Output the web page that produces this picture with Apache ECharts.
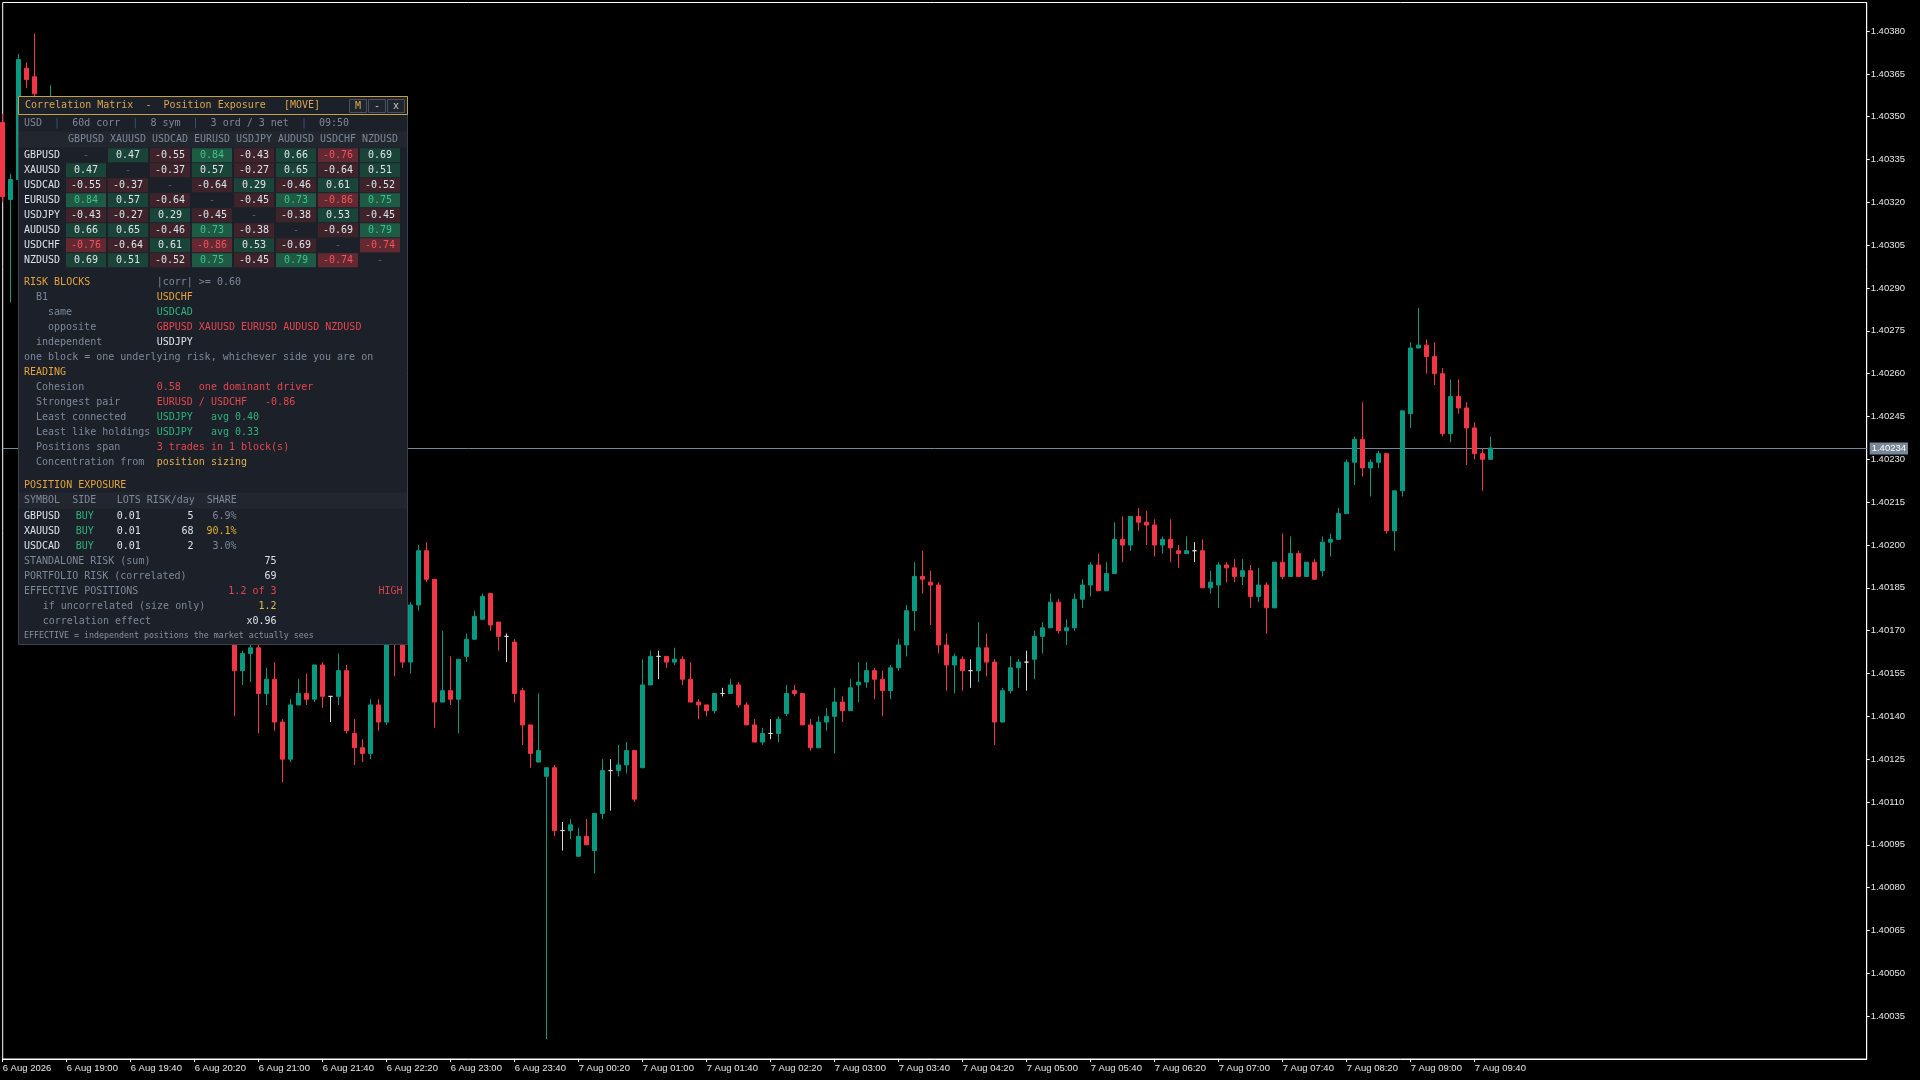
<!DOCTYPE html>
<html><head><meta charset="utf-8">
<script src="https://cdn.jsdelivr.net/npm/echarts@6.0.0/dist/echarts.min.js"></script>
<style>html,body{margin:0;padding:0;background:#000;overflow:hidden}#c{width:1920px;height:1080px}</style>
</head><body><div id="c"></div>
<script>
// ---------- DATA ----------
// M5 bars from 6 Aug 18:20 to 7 Aug 09:50, each [open, close, low, high]
const candles = [
[1.40348,1.40322,1.40320,1.40351],[1.40321,1.40328,1.40285,1.40330],[1.40328,1.40370,1.40326,1.40372],[1.40367,1.40363,1.40360,1.40369],
[1.40364,1.40358,1.40352,1.40379],[1.40354,1.40346,1.40340,1.40356],[1.40346,1.40352,1.40343,1.40361],[1.40352,1.40341,1.40336,1.40354],
[1.40341,1.40334,1.40328,1.40345],[1.40334,1.40338,1.40330,1.40342],[1.40338,1.40322,1.40318,1.40340],[1.40322,1.40314,1.40309,1.40326],
[1.40314,1.40319,1.40311,1.40323],[1.40319,1.40303,1.40298,1.40321],[1.40303,1.40291,1.40286,1.40306],[1.40291,1.40297,1.40288,1.40301],
[1.40297,1.40280,1.40276,1.40299],[1.40280,1.40266,1.40261,1.40283],[1.40266,1.40272,1.40262,1.40276],[1.40272,1.40255,1.40250,1.40274],
[1.40255,1.40243,1.40238,1.40258],[1.40243,1.40248,1.40239,1.40252],[1.40248,1.40231,1.40226,1.40250],[1.40231,1.40218,1.40212,1.40234],
[1.40218,1.40224,1.40214,1.40228],[1.40224,1.40206,1.40200,1.40226],[1.40206,1.40192,1.40188,1.40209],[1.40192,1.40184,1.40178,1.40196],
[1.40184,1.40174,1.40169,1.40187],[1.40174,1.40156,1.40140,1.40176],[1.40156,1.40162,1.40151,1.40163],[1.40162,1.40164,1.40152,1.40167],
[1.40164,1.40148,1.40134,1.40165],[1.40148,1.40153,1.40144,1.40157],[1.40153,1.40138,1.40135,1.40159],[1.40138,1.40125,1.40117,1.40139],
[1.40125,1.40144,1.40124,1.40146],[1.40144,1.40148,1.40144,1.40153],[1.40148,1.40146,1.40144,1.40155],[1.40146,1.40158,1.40145,1.40158],
[1.40158,1.40147,1.40143,1.40159],[1.40147,1.40147,1.40138,1.40147],[1.40147,1.40156,1.40144,1.40162],[1.40156,1.40135,1.40134,1.40158],
[1.40134,1.40129,1.40123,1.40139],[1.40129,1.40127,1.40124,1.40132],[1.40127,1.40144,1.40125,1.40146],[1.40144,1.40138,1.40135,1.40146],
[1.40138,1.40170,1.40137,1.40172],[1.40170,1.40166,1.40154,1.40173],[1.40166,1.40159,1.40157,1.40168],[1.40159,1.40179,1.40155,1.40180],
[1.40179,1.40198,1.40177,1.40200],[1.40198,1.40188,1.40187,1.40201],[1.40188,1.40145,1.40136,1.40188],[1.40145,1.40149,1.40145,1.40170],
[1.40149,1.40146,1.40144,1.40161],[1.40146,1.40160,1.40134,1.40160],[1.40161,1.40167,1.40159,1.40169],[1.40167,1.40175,1.40167,1.40177],
[1.40174,1.40182,1.40174,1.40183],[1.40183,1.40172,1.40170,1.40183],[1.40173,1.40168,1.40163,1.40173],[1.40168,1.40168,1.40159,1.40169],
[1.40166,1.40148,1.40145,1.40167],[1.40149,1.40137,1.40130,1.40150],[1.40137,1.40127,1.40122,1.40137],[1.40124,1.40128,1.40124,1.40148],
[1.40119,1.40122,1.40027,1.40122],[1.40122,1.40100,1.40098,1.40123],[1.40100,1.40100,1.40093,1.40103],[1.40100,1.40102,1.40097,1.40104],
[1.40091,1.40098,1.40091,1.40101],[1.40098,1.40095,1.40095,1.40104],[1.40093,1.40106,1.40085,1.40106],[1.40106,1.40121,1.40104,1.40125],
[1.40121,1.40121,1.40107,1.40125],[1.40121,1.40123,1.40119,1.40130],[1.40123,1.40128,1.40120,1.40131],[1.40128,1.40111,1.40110,1.40128],
[1.40122,1.40151,1.40122,1.40160],[1.40151,1.40161,1.40151,1.40163],[1.40161,1.40161,1.40153,1.40163],[1.40161,1.40159,1.40157,1.40161],
[1.40159,1.40160,1.40158,1.40164],[1.40160,1.40153,1.40151,1.40161],[1.40153,1.40145,1.40145,1.40159],[1.40145,1.40144,1.40139,1.40146],
[1.40144,1.40142,1.40140,1.40144],[1.40142,1.40148,1.40141,1.40148],[1.40148,1.40148,1.40147,1.40150],[1.40148,1.40151,1.40148,1.40153],
[1.40151,1.40144,1.40143,1.40152],[1.40144,1.40137,1.40137,1.40145],[1.40137,1.40131,1.40131,1.40139],[1.40131,1.40134,1.40130,1.40136],
[1.40134,1.40134,1.40132,1.40139],[1.40134,1.40139,1.40131,1.40140],[1.40141,1.40148,1.40140,1.40151],[1.40149,1.40148,1.40147,1.40151],
[1.40148,1.40137,1.40137,1.40148],[1.40137,1.40129,1.40128,1.40139],[1.40129,1.40138,1.40129,1.40140],[1.40138,1.40140,1.40135,1.40143],
[1.40140,1.40145,1.40127,1.40150],[1.40145,1.40142,1.40138,1.40147],[1.40142,1.40150,1.40142,1.40153],[1.40151,1.40152,1.40145,1.40159],
[1.40152,1.40156,1.40150,1.40159],[1.40156,1.40153,1.40146,1.40157],[1.40153,1.40149,1.40140,1.40156],[1.40149,1.40157,1.40146,1.40158],
[1.40157,1.40165,1.40156,1.40167],[1.40165,1.40177,1.40161,1.40179],[1.40177,1.40189,1.40170,1.40194],[1.40189,1.40188,1.40183,1.40198],
[1.40187,1.40186,1.40172,1.40191],[1.40186,1.40165,1.40162,1.40187],[1.40165,1.40158,1.40149,1.40169],[1.40158,1.40161,1.40148,1.40162],
[1.40160,1.40156,1.40149,1.40161],[1.40156,1.40156,1.40150,1.40160],[1.40156,1.40164,1.40152,1.40173],[1.40164,1.40159,1.40154,1.40169],
[1.40159,1.40138,1.40130,1.40160],[1.40138,1.40149,1.40138,1.40150],[1.40149,1.40157,1.40148,1.40161],[1.40157,1.40159,1.40150,1.40160],
[1.40159,1.40159,1.40149,1.40163],[1.40160,1.40168,1.40153,1.40170],[1.40168,1.40171,1.40162,1.40173],[1.40171,1.40180,1.40171,1.40183],
[1.40180,1.40170,1.40169,1.40181],[1.40170,1.40171,1.40165,1.40174],[1.40171,1.40181,1.40170,1.40183],[1.40181,1.40186,1.40178,1.40188],
[1.40186,1.40193,1.40182,1.40194],[1.40193,1.40184,1.40184,1.40197],[1.40184,1.40190,1.40184,1.40194],[1.40190,1.40202,1.40190,1.40208],
[1.40202,1.40200,1.40194,1.40210],[1.40200,1.40210,1.40198,1.40210],[1.40210,1.40208,1.40205,1.40213],[1.40208,1.40207,1.40200,1.40212],
[1.40207,1.40200,1.40196,1.40209],[1.40200,1.40202,1.40197,1.40203],[1.40202,1.40199,1.40194,1.40209],[1.40198,1.40197,1.40192,1.40200],
[1.40197,1.40198,1.40197,1.40203],[1.40198,1.40198,1.40194,1.40201],[1.40198,1.40185,1.40185,1.40202],[1.40185,1.40187,1.40183,1.40191],
[1.40186,1.40193,1.40178,1.40194],[1.40193,1.40192,1.40187,1.40194],[1.40192,1.40189,1.40187,1.40195],[1.40189,1.40191,1.40186,1.40195],
[1.40191,1.40182,1.40178,1.40193],[1.40182,1.40186,1.40180,1.40192],[1.40186,1.40178,1.40169,1.40187],[1.40178,1.40194,1.40178,1.40194],
[1.40194,1.40189,1.40188,1.40204],[1.40189,1.40197,1.40189,1.40203],[1.40197,1.40189,1.40189,1.40198],[1.40189,1.40194,1.40189,1.40194],
[1.40194,1.40188,1.40188,1.40195],[1.40191,1.40201,1.40189,1.40203],[1.40201,1.40202,1.40196,1.40204],[1.40202,1.40211,1.40202,1.40213],
[1.40211,1.40229,1.40211,1.40230],[1.40229,1.40237,1.40221,1.40238],[1.40237,1.40227,1.40224,1.40250],[1.40227,1.40229,1.40217,1.40230],
[1.40229,1.40232,1.40227,1.40233],[1.40232,1.40205,1.40204,1.40232],[1.40205,1.40219,1.40198,1.40219],[1.40219,1.40247,1.40217,1.40247],
[1.40246,1.40269,1.40241,1.40271],[1.40269,1.40270,1.40269,1.40283],[1.40270,1.40266,1.40260,1.40272],[1.40266,1.40260,1.40256,1.40271],
[1.40260,1.40239,1.40238,1.40262],[1.40239,1.40252,1.40236,1.40258],[1.40252,1.40248,1.40246,1.40258],[1.40248,1.40241,1.40228,1.40250],
[1.40241,1.40232,1.40230,1.40243],[1.40232,1.40230,1.40219,1.40234],[1.40230,1.40234,1.40230,1.40238]
];
const bidPrice = 1.40234;
const xTickLabels = ['6 Aug 2026','6 Aug 19:00','6 Aug 19:40','6 Aug 20:20','6 Aug 21:00','6 Aug 21:40','6 Aug 22:20','6 Aug 23:00','6 Aug 23:40',
  '7 Aug 00:20','7 Aug 01:00','7 Aug 01:40','7 Aug 02:20','7 Aug 03:00','7 Aug 03:40','7 Aug 04:20','7 Aug 05:00','7 Aug 05:40',
  '7 Aug 06:20','7 Aug 07:00','7 Aug 07:40','7 Aug 08:20','7 Aug 09:00','7 Aug 09:40'];
const yTickLabels = ['1.40035','1.40050','1.40065','1.40080','1.40095','1.40110','1.40125','1.40140','1.40155','1.40170','1.40185','1.40200',
  '1.40215','1.40230','1.40245','1.40260','1.40275','1.40290','1.40305','1.40320','1.40335','1.40350','1.40365','1.40380'];
const yMin = 1.40020, yMax = 1.40390;

const symbols = ['GBPUSD','XAUUSD','USDCAD','EURUSD','USDJPY','AUDUSD','USDCHF','NZDUSD'];
const corr = [
  [null, 0.47,-0.55, 0.84,-0.43, 0.66,-0.76, 0.69],
  [0.47, null,-0.37, 0.57,-0.27, 0.65,-0.64, 0.51],
  [-0.55,-0.37,null,-0.64, 0.29,-0.46, 0.61,-0.52],
  [0.84, 0.57,-0.64, null,-0.45, 0.73,-0.86, 0.75],
  [-0.43,-0.27,0.29,-0.45, null,-0.38, 0.53,-0.45],
  [0.66, 0.65,-0.46, 0.73,-0.38, null,-0.69, 0.79],
  [-0.76,-0.64,0.61,-0.86, 0.53,-0.69, null,-0.74],
  [0.69, 0.51,-0.52, 0.75,-0.45, 0.79,-0.74, null]
];
const posSymbols = ['GBPUSD','XAUUSD','USDCAD'];
const posSides = ['BUY','BUY','BUY'];
const posLots = ['0.01','0.01','0.01'];
const posRisk = [5, 68, 2];
const posShare = ['6.9%','90.1%','3.0%'];
const standaloneRisk = 75, portfolioRisk = 69;

// ---------- CATEGORIES (bar times, incl. right shift space) ----------
const shiftBars = 47;
function pad(n){return (n<10?'0':'')+n;}
const categories = [];
for (let i = 0; i < candles.length + shiftBars; i++) {
  const m = 18*60 + 20 + i*5;
  const d = 6 + Math.floor(m/1440), mm = m % 1440;
  categories.push(d + ' Aug ' + pad(Math.floor(mm/60)) + ':' + pad(mm%60));
}
const UP = '#089981', DOWN = '#f23645', DOJI = '#d8d8d8';
const seriesData = candles.map(c => c[0] === c[1]
  ? {value: c, itemStyle: {color: DOJI, color0: DOJI, borderColor: DOJI, borderColor0: DOJI, borderColorDoji: DOJI}}
  : c);

// ---------- PANEL GRAPHICS ----------
const FONT = '10px "DejaVu Sans Mono", "Liberation Mono", monospace';
const CW = 6.02;
const els = [];
function rect(x,y,w,h,fill,stroke){
  els.push({type:'rect', z:100, silent:true, shape:{x:x,y:y,width:w,height:h},
    style:{fill:fill, stroke:stroke||null, lineWidth:stroke?1:0}});
}
function text(x,y,s,color,align,font,extra){
  els.push({type:'text', z:101, silent:true, x:x, y:y,
    style:Object.assign({text:s, fill:color, font:font||FONT, textAlign:align||'left', align:align||'left',
      textVerticalAlign:'middle', verticalAlign:'middle'}, extra||{})});
}
function segs(x,y,parts){ let cx=x; parts.forEach(p=>{ text(cx,y,p[0],p[1]); cx += p[0].length*CW; }); }

const GOLD='#e3a33e', TGOLD='#d9a74f', GREY='#7e8898', WHITE='#dce2ea', GREEN='#2db37d', RED='#e5464f', DIM='#5d6573', SEP='#3b5a80';
rect(18.5, 96.5, 389, 548, '#1c2029', '#394150');
rect(18.5, 96.5, 389, 18, '#1c2029', '#c8a04c');
text(25, 105.7, 'Correlation Matrix  -  Position Exposure   [MOVE]', TGOLD);
['M','-','x'].forEach((b,i)=>{ const bx = 349.5 + i*19; rect(bx, 99.5, 17, 13, '#20252d', '#4a5262');
  text(bx+8.5, 106, b, i===0?TGOLD:'#c9ced6', 'center'); });
segs(24, 123.7, [['USD',GREY],['  |  ',SEP],['60d corr',GREY],['  |  ',SEP],['8 sym',GREY],['  |  ',SEP],['3 ord / 3 net',GREY],['  |  ',SEP],['09:50',GREY]]);
rect(19, 131.5, 388, 16, '#22272f');
symbols.forEach((s,j)=> text(86 + 42*j, 139, s, GREY, 'center'));
symbols.forEach((s,i)=>{
  const cy = 155.3 + 15*i;
  text(24, cy, s, WHITE);
  corr[i].forEach((v,j)=>{
    const cx = 66 + 42*j;
    if (v === null) { text(cx+20, cy, '-', DIM, 'center'); return; }
    const strong = Math.abs(v) >= 0.7;
    let bg, fg;
    if (v >= 0) { bg = strong ? '#1e5a44' : '#1b4438'; fg = strong ? '#3ec38a' : WHITE; }
    else { bg = strong ? '#642830' : '#3e242a'; fg = strong ? '#ef5560' : WHITE; }
    rect(cx, 148.3 + 15*i, 40, 14, bg);
    text(cx+20, cy, v.toFixed(2), fg, 'center');
  });
});
text(24, 282.7, 'RISK BLOCKS', GOLD);            text(156.7, 282.7, '|corr| >= 0.60', GREY);
text(36, 297.7, 'B1', GREY);                     text(156.7, 297.7, 'USDCHF', GOLD);
text(48, 312.5, 'same', GREY);                   text(156.7, 312.5, 'USDCAD', GREEN);
text(48, 327.3, 'opposite', GREY);               text(156.7, 327.3, 'GBPUSD XAUUSD EURUSD AUDUSD NZDUSD', RED);
text(36, 342.3, 'independent', GREY);            text(156.7, 342.3, 'USDJPY', WHITE);
text(24, 357.3, 'one block = one underlying risk, whichever side you are on', GREY);
text(24, 372.3, 'READING', GOLD);
text(36, 387.5, 'Cohesion', GREY);               text(156.7, 387.5, '0.58   one dominant driver', RED);
text(36, 402.3, 'Strongest pair', GREY);         text(156.7, 402.3, 'EURUSD / USDCHF   -0.86', RED);
text(36, 417.3, 'Least connected', GREY);        text(156.7, 417.3, 'USDJPY   avg 0.40', GREEN);
text(36, 432.3, 'Least like holdings', GREY);    text(156.7, 432.3, 'USDJPY   avg 0.33', GREEN);
text(36, 447.3, 'Positions span', GREY);         text(156.7, 447.3, '3 trades in 1 block(s)', RED);
text(36, 462.3, 'Concentration from', GREY);     text(156.7, 462.3, 'position sizing', '#e2b046');
text(24, 485.3, 'POSITION EXPOSURE', GOLD);
rect(19, 492.5, 388, 16, '#22272f');
text(24, 500.7, 'SYMBOL', GREY); text(72.3, 500.7, 'SIDE', GREY); text(116.7, 500.7, 'LOTS', GREY);
text(146.7, 500.7, 'RISK/day', GREY); text(206.7, 500.7, 'SHARE', GREY);
posSymbols.forEach((s,i)=>{
  const y = 516 + 15.3*i;
  text(24, y, s, WHITE);
  text(75.7, y, posSides[i], GREEN);
  text(116.7, y, posLots[i], WHITE);
  text(193.5, y, String(posRisk[i]), WHITE, 'right');
  text(236.5, y, posShare[i], parseFloat(posShare[i]) > 50 ? '#e2b032' : GREY, 'right');
});
text(24, 561.7, 'STANDALONE RISK (sum)', GREY);          text(276.5, 561.7, String(standaloneRisk), WHITE, 'right');
text(24, 576.7, 'PORTFOLIO RISK (correlated)', GREY);    text(276.5, 576.7, String(portfolioRisk), WHITE, 'right');
text(24, 591.7, 'EFFECTIVE POSITIONS', GREY);            text(276.5, 591.7, '1.2 of 3', RED, 'right');
text(402.5, 591.7, 'HIGH', '#d2444e', 'right');
text(42.7, 606.7, 'if uncorrelated (size only)', GREY);  text(276.5, 606.7, '1.2', '#d4c04a', 'right');
text(42.7, 621.5, 'correlation effect', GREY);           text(276.5, 621.5, 'x0.96', WHITE, 'right');
text(24, 635.7, 'EFFECTIVE = independent positions the market actually sees', '#8b929c', 'left', '8.3px "DejaVu Sans Mono", monospace');

// ---------- CHART ----------
const chart = echarts.init(document.getElementById('c'), null, {renderer:'canvas', width:1920, height:1080});
const AXFONT = '"Liberation Sans", Arial, sans-serif';
const AXF = {color:'#e6e6e6', fontSize:9.5, fontFamily:AXFONT};
const GRID = {left:2.7, right:53.3, top:2.5, bottom:21};
chart.setOption({
  backgroundColor:'#000',
  animation:false,
  grid:Object.assign({show:true, borderColor:'#ffffff', borderWidth:1, backgroundColor:'transparent', containLabel:false, outerBoundsMode:'none'}, GRID),
  xAxis:{type:'category', data:categories, boundaryGap:false,
    axisLine:{show:true, lineStyle:{color:'#ffffff', width:1}},
    axisTick:{show:true, length:3, interval:(i)=> i%8===0 && i<candles.length, lineStyle:{color:'#ffffff'}},
    axisLabel:Object.assign({show:true, interval:(i)=> i%8===0 && i<candles.length, align:'left', margin:4,
      formatter:(v,i)=> xTickLabels[i/8] || ''}, AXF),
    splitLine:{show:false}},
  yAxis:{type:'value', position:'right', min:yMin, max:yMax, interval:0.00015,
    axisLine:{show:true, lineStyle:{color:'#ffffff', width:1}},
    axisTick:{show:true, length:3, inside:false, lineStyle:{color:'#ffffff'}},
    axisLabel:Object.assign({show:true, margin:4, showMinLabel:false, showMaxLabel:false,
      formatter:(v)=> { const s = v.toFixed(5); return yTickLabels.indexOf(s) >= 0 ? s : ''; }}, AXF),
    splitLine:{show:false}},
  series:[{
    type:'candlestick', data:seriesData, barWidth:4, clip:true, z:5,
    itemStyle:{color:UP, color0:DOWN, borderColor:UP, borderColor0:DOWN, borderColorDoji:DOJI, borderWidth:1}
  }]
});
// bid price line + tag, positioned through the y axis scale
const bidY = Math.round(chart.convertToPixel({yAxisIndex:0}, bidPrice)) + 0.5;
const gridRight = 1920 - GRID.right;
els.unshift({type:'line', z:1, silent:true, shape:{x1:GRID.left, y1:bidY, x2:gridRight, y2:bidY},
  style:{stroke:'#778899', lineWidth:1}});
text(gridRight + 3, bidY, bidPrice.toFixed(5), '#ffffff', 'left', '9.5px ' + AXFONT,
  {backgroundColor:'#778899', padding:[1,2,1,2]});
chart.setOption({graphic:{elements:els}});
</script>
</body></html>
